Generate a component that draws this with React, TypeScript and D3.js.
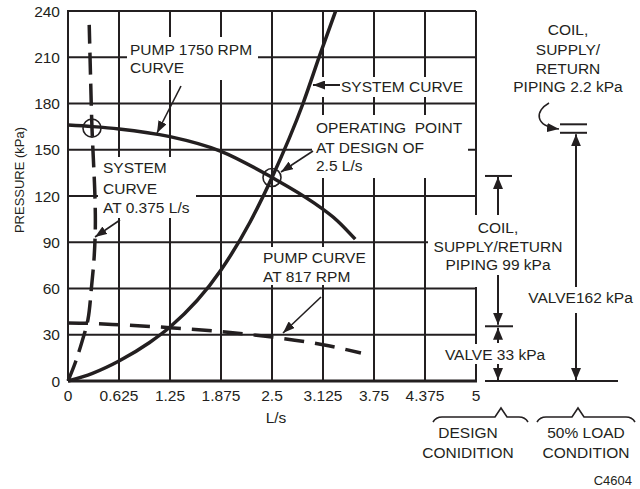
import React from "react";
import * as d3 from "d3";

// ---- data ----
const xTicks = [0, 0.625, 1.25, 1.875, 2.5, 3.125, 3.75, 4.375, 5];
const xTickLabels = ["0", "0.625", "1.25", "1.875", "2.5", "3.125", "3.75", "4.375", "5"];
const yTicks = [0, 30, 60, 90, 120, 150, 180, 210, 240];

const pump1750Flow = [0, 0.3, 0.625, 1.25, 1.875, 2.5, 3.0, 3.3, 3.52];
const pump1750Pressure = [166, 165, 163.5, 158.5, 149, 132, 116, 104, 92];

const systemFlow = [0, 0.3, 0.625, 1.0, 1.25, 1.875, 2.23, 2.5, 2.88, 3.09, 3.28];
const systemPressure = [0, 5, 13, 25, 35, 72, 103, 132, 180, 212, 240];

const system0375Flow = [0, 0.09, 0.18, 0.245, 0.29, 0.32, 0.335, 0.33, 0.31, 0.294, 0.275, 0.26];
const system0375Pressure = [0, 12, 27, 40, 62, 80, 100, 120, 145, 164, 200, 231];

const pump817Flow = [0, 0.25, 0.625, 1.25, 1.875, 2.5, 3.125, 3.59];
const pump817Pressure = [37.6, 37.4, 36.5, 34.6, 32, 28.5, 23.5, 18.2];

const circleFlow = [0.294, 2.5];
const circlePressure = [164, 132];

// dimension levels (kPa)
const designTop = 133;
const designValve = 35.5;
const loadCoilLines = [166.5, 161];
const loadArrowTop = 160;

const FONT = "'Liberation Sans', Arial, Helvetica, sans-serif";
const INK = "#231f20";

function MText({ x, y, lines, anchor = "start", size = 15.5, lh = 19.5 }: any) {
  return (
    <text x={x} y={y} textAnchor={anchor} fontSize={size} fontFamily={FONT} fill={INK}>
      {lines.map((l: string, i: number) => (
        <tspan key={i} x={x} y={Array.isArray(lh) ? lh[i] : y + i * lh} style={{ whiteSpace: "pre" }}>
          {l}
        </tspan>
      ))}
    </text>
  );
}

export default function App() {
  const W = 640, H = 489;
  const x = d3.scaleLinear().domain([0, 5]).range([68, 476]);
  const y = d3.scaleLinear().domain([0, 240]).range([381, 11]);

  const mk = (xs: number[], ys: number[], curve: any) =>
    d3.line<number>().x((_, i) => x(xs[i])).y((_, i) => y(ys[i])).curve(curve)(xs) as string;

  const pump1750 = mk(pump1750Flow, pump1750Pressure, d3.curveMonotoneX);
  const system = mk(systemFlow, systemPressure, d3.curveMonotoneX);
  const sys0375 = mk(system0375Flow, system0375Pressure, d3.curveCatmullRom);
  const pump817 = mk(pump817Flow, pump817Pressure, d3.curveMonotoneX);

  const x0 = x(0), x5 = x(5), y0 = y(0), yTop = y(240);

  // dimension geometry
  const dimL = 498;
  const dimR = 576;
  const yDesTop = y(designTop);
  const yDesValve = y(designValve);

  return (
    <svg width={W} height={H} style={{ position: "absolute", left: 0, top: 0, background: "#fff" }}>
      <defs>
        <marker id="ah" viewBox="0 0 12 9" refX={12} refY={4.5} markerWidth={12} markerHeight={9}
          markerUnits="userSpaceOnUse" orient="auto">
          <path d="M0,0 L12,4.5 L0,9 z" fill={INK} />
        </marker>
        <marker id="ahB" viewBox="0 0 12 10" refX={12} refY={5} markerWidth={12} markerHeight={10}
          markerUnits="userSpaceOnUse" orient="auto">
          <path d="M0,0 L12,5 L0,10 z" fill={INK} />
        </marker>
      </defs>
      <rect x={0} y={0} width={W} height={H} fill="#fff" />

      {/* grid */}
      <g stroke={INK} strokeWidth={2}>
        {xTicks.slice(1).map((t) => (
          <line key={"vx" + t} x1={x(t)} x2={x(t)} y1={yTop} y2={y0} />
        ))}
        {yTicks.slice(1).map((t) => (
          <line key={"hy" + t} x1={x0} x2={x5} y1={y(t)} y2={y(t)} />
        ))}
        <line x1={x0} x2={x0} y1={yTop - 1} y2={y0} />
        <line x1={x0} x2={x5 + 1} y1={y0} y2={y0} strokeWidth={3} />
      </g>

      {/* white label boxes over the grid */}
      <g fill="#fff">
        <rect x={127} y={37} width={131} height={43} />
        <rect x={98} y={157} width={98} height={61} />
        <rect x={318} y={77} width={148} height={20} />
        <rect x={312} y={115} width={156} height={63} />
        <rect x={258} y={247} width={112} height={38} />
        <rect x={428} y={215} width={140} height={72} />
        <rect x={440} y={344} width={110} height={20} />
      </g>

      {/* curves */}
      <g fill="none" stroke={INK} strokeWidth={3.5} strokeLinecap="butt">
        <path d={pump1750} />
        <path d={system} />
        <path d={sys0375} strokeDasharray="22 9" />
        <path d={pump817} strokeDasharray="20 11" />
      </g>
      {circleFlow.map((f, i) => (
        <circle key={i} cx={x(f)} cy={y(circlePressure[i])} r={9} fill="none" stroke={INK} strokeWidth={1.6} />
      ))}

      {/* annotation arrows */}
      <g stroke={INK} strokeWidth={1.6} fill="none">
        <line x1={181} y1={86} x2={157} y2={133} markerEnd="url(#ah)" />
        <line x1={120} y1={220} x2={95} y2={237} markerEnd="url(#ah)" />
        <line x1={340} y1={85} x2={313} y2={85} strokeWidth={2} markerEnd="url(#ah)" />
        <line x1={313} y1={151} x2={281} y2={172} markerEnd="url(#ah)" />
        <line x1={321} y1={297} x2={283} y2={333} markerEnd="url(#ah)" />
        <path d="M549,103 C535,111 534,126 559,129" markerEnd="url(#ah)" />
      </g>

      {/* dimension lines */}
      <g stroke={INK} strokeWidth={2} fill="none">
        <line x1={485} x2={512} y1={yDesTop} y2={yDesTop} />
        <line x1={485} x2={513} y1={yDesValve} y2={yDesValve} />
        <line x1={485} x2={618} y1={y0} y2={y0} />
        <line x1={dimL} x2={dimL} y1={215} y2={yDesTop + 1} markerEnd="url(#ahB)" />
        <line x1={dimL} x2={dimL} y1={275} y2={yDesValve - 1.5} markerEnd="url(#ahB)" />
        <line x1={dimL} x2={dimL} y1={343} y2={yDesValve + 1.5} markerEnd="url(#ahB)" />
        <line x1={dimL} x2={dimL} y1={364} y2={y0 - 1} markerEnd="url(#ahB)" />
        <line x1={560} x2={587} y1={y(loadCoilLines[0])} y2={y(loadCoilLines[0])} />
        <line x1={560} x2={587} y1={y(loadCoilLines[1])} y2={y(loadCoilLines[1])} />
        <line x1={dimR} x2={dimR} y1={287} y2={y(loadArrowTop)} markerEnd="url(#ahB)" />
        <line x1={dimR} x2={dimR} y1={313} y2={y0 - 1} markerEnd="url(#ahB)" />
      </g>

      {/* braces */}
      <g stroke={INK} strokeWidth={1.6} fill="none">
        <path d="M433,422 Q436,417 442,417 L495,417 L501,408 L507,417 L519,417 Q525,417 528,422" />
        <path d="M537,422 Q540,417 546,417 L572,417 L578,408 L584,417 L626,417 Q632,417 635,422" />
      </g>

      {/* axis tick labels */}
      {yTicks.map((t) => (
        <text key={"yl" + t} x={60} y={y(t) + 5.5} textAnchor="end" fontSize={15.5} fontFamily={FONT} fill={INK}>
          {t}
        </text>
      ))}
      {xTicks.map((t, i) => (
        <text key={"xl" + t} x={x(t)} y={401} textAnchor="middle" fontSize={15.5} fontFamily={FONT} fill={INK}>
          {xTickLabels[i]}
        </text>
      ))}
      <text x={276} y={423} textAnchor="middle" fontSize={15.5} fontFamily={FONT} fill={INK}>L/s</text>
      <text transform="translate(24,180) rotate(-90)" textAnchor="middle" fontSize={13} fontFamily={FONT} fill={INK}>
        PRESSURE (kPa)
      </text>

      {/* annotations text */}
      <MText x={130} y={55} lines={["PUMP 1750 RPM", "CURVE"]} lh={[55, 73]} />
      <MText x={103} y={173} lines={["SYSTEM", "CURVE", "AT 0.375 L/s"]} lh={[173, 193.5, 212.5]} />
      <MText x={341} y={92} lines={["SYSTEM CURVE"]} />
      <MText x={316} y={133} lines={["OPERATING  POINT", "AT DESIGN OF", "2.5 L/s"]} lh={[133, 153, 171]} />
      <MText x={263} y={263} lines={["PUMP CURVE", "AT 817 RPM"]} lh={[263, 282]} />
      <MText x={568} y={35} anchor="middle" lines={["COIL,", "SUPPLY/", "RETURN", "PIPING 2.2 kPa"]} lh={[35, 55, 73.5, 92]} />
      <MText x={498} y={233} anchor="middle" lines={["COIL,", "SUPPLY/RETURN", "PIPING 99 kPa"]} lh={[233, 252, 270]} />
      <MText x={495} y={360} anchor="middle" lines={["VALVE 33 kPa"]} />
      <MText x={580.5} y={303} anchor="middle" lines={["VALVE162 kPa"]} />
      <MText x={468} y={438} anchor="middle" lines={["DESIGN", "CONIDITION"]} lh={[438, 458]} />
      <MText x={586} y={438} anchor="middle" lines={["50% LOAD", "CONDITION"]} lh={[438, 458]} />
      <MText x={632} y={485} anchor="end" size={13} lines={["C4604"]} />
    </svg>
  );
}
